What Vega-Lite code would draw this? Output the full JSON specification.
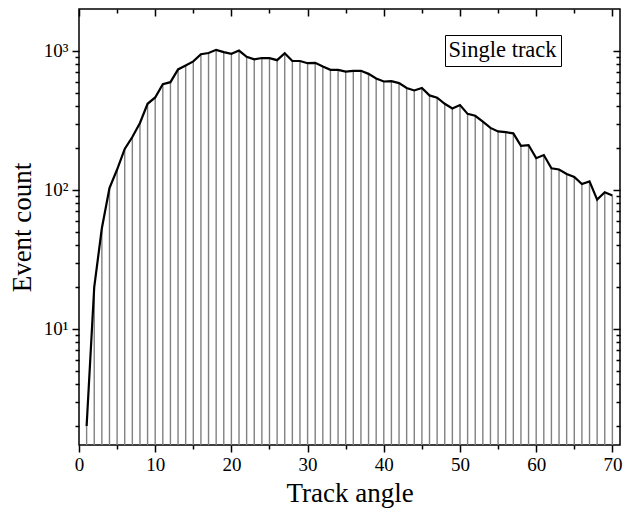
{
  "$schema": "https://vega.github.io/schema/vega-lite/v6.json",
  "width": 541,
  "height": 436,
  "autosize": "none",
  "padding": {"left": 79, "top": 9, "right": 16, "bottom": 70},
  "background": "white",
  "config": {"view": {"stroke": "black", "strokeWidth": 1.5}, "font": "Liberation Serif"},
  "data": {"values": [
    {"angle": 1, "count": 2}, {"angle": 2, "count": 20}, {"angle": 3, "count": 53}, {"angle": 4, "count": 103},
    {"angle": 5, "count": 140}, {"angle": 6, "count": 197}, {"angle": 7, "count": 240}, {"angle": 8, "count": 303},
    {"angle": 9, "count": 416}, {"angle": 10, "count": 462}, {"angle": 11, "count": 575}, {"angle": 12, "count": 595},
    {"angle": 13, "count": 735}, {"angle": 14, "count": 785}, {"angle": 15, "count": 840}, {"angle": 16, "count": 945},
    {"angle": 17, "count": 965}, {"angle": 18, "count": 1017}, {"angle": 19, "count": 980}, {"angle": 20, "count": 952},
    {"angle": 21, "count": 1005}, {"angle": 22, "count": 905}, {"angle": 23, "count": 870}, {"angle": 24, "count": 888},
    {"angle": 25, "count": 886}, {"angle": 26, "count": 857}, {"angle": 27, "count": 962}, {"angle": 28, "count": 845},
    {"angle": 29, "count": 845}, {"angle": 30, "count": 815}, {"angle": 31, "count": 820}, {"angle": 32, "count": 771},
    {"angle": 33, "count": 730}, {"angle": 34, "count": 730}, {"angle": 35, "count": 710}, {"angle": 36, "count": 718},
    {"angle": 37, "count": 718}, {"angle": 38, "count": 683}, {"angle": 39, "count": 632}, {"angle": 40, "count": 602},
    {"angle": 41, "count": 606}, {"angle": 42, "count": 586}, {"angle": 43, "count": 540}, {"angle": 44, "count": 519},
    {"angle": 45, "count": 540}, {"angle": 46, "count": 478}, {"angle": 47, "count": 460}, {"angle": 48, "count": 416},
    {"angle": 49, "count": 385}, {"angle": 50, "count": 407}, {"angle": 51, "count": 352}, {"angle": 52, "count": 341},
    {"angle": 53, "count": 310}, {"angle": 54, "count": 279}, {"angle": 55, "count": 263}, {"angle": 56, "count": 260},
    {"angle": 57, "count": 255}, {"angle": 58, "count": 207}, {"angle": 59, "count": 210}, {"angle": 60, "count": 169},
    {"angle": 61, "count": 178}, {"angle": 62, "count": 143}, {"angle": 63, "count": 140}, {"angle": 64, "count": 130},
    {"angle": 65, "count": 124}, {"angle": 66, "count": 110}, {"angle": 67, "count": 115}, {"angle": 68, "count": 85},
    {"angle": 69, "count": 96}, {"angle": 70, "count": 91}
  ]},
  "layer": [
    {
      "mark": {"type": "rule", "stroke": "#808080", "strokeWidth": 1.4},
      "encoding": {
        "x": {
          "field": "angle", "type": "quantitative",
          "scale": {"domain": [0, 71], "nice": false, "zero": false},
          "axis": {
            "orient": "bottom",
            "values": [0, 5, 10, 15, 20, 25, 30, 35, 40, 45, 50, 55, 60, 65, 70],
            "labelExpr": "datum.value % 10 === 0 ? datum.label : ''",
            "tickSize": {"condition": {"test": "datum.value % 10 === 0", "value": 7}, "value": 4},
            "tickColor": "black", "tickWidth": 1.5,
            "grid": false, "domain": false, "labelFlush": false, "labelOverlap": false,
            "labelFontSize": 19, "labelColor": "black", "labelFont": "Liberation Serif", "labelPadding": 3,
            "title": "Track angle", "titleFontSize": 27, "titleFontWeight": "normal", "titleColor": "black",
            "titleFont": "Liberation Serif", "titlePadding": 6
          }
        },
        "y": {
          "field": "count", "type": "quantitative",
          "scale": {"type": "log", "domain": [1.46, 2000], "nice": false},
          "axis": {
            "orient": "left",
            "values": [2, 3, 4, 5, 6, 7, 8, 9, 10, 20, 30, 40, 50, 60, 70, 80, 90, 100, 200, 300, 400, 500, 600, 700, 800, 900, 1000],
            "labelExpr": "datum.value == 10 ? '10¹' : datum.value == 100 ? '10²' : datum.value == 1000 ? '10³' : ''",
            "tickSize": {"condition": {"test": "datum.value == 10 || datum.value == 100 || datum.value == 1000", "value": 7}, "value": 4},
            "tickColor": "black", "tickWidth": 1.5,
            "grid": false, "domain": false, "labelOverlap": false, "labelFlush": false,
            "labelFontSize": 19, "labelColor": "black", "labelFont": "Liberation Serif", "labelPadding": 4,
            "title": "Event count", "titleFontSize": 27, "titleFontWeight": "normal", "titleColor": "black",
            "titleFont": "Liberation Serif", "titlePadding": 7
          }
        },
        "y2": {"datum": 1.46}
      }
    },
    {
      "mark": {"type": "line", "strokeWidth": 2.2, "clip": true},
      "encoding": {
        "x": {
          "field": "angle", "type": "quantitative",
          "axis": {
            "orient": "top",
            "values": [0, 5, 10, 15, 20, 25, 30, 35, 40, 45, 50, 55, 60, 65, 70],
            "labels": false,
            "tickSize": {"condition": {"test": "datum.value % 10 === 0", "value": -7}, "value": -4},
            "tickColor": "black", "tickWidth": 1.5,
            "grid": false, "domain": false, "title": null
          }
        },
        "y": {
          "field": "count", "type": "quantitative",
          "axis": {
            "orient": "right",
            "values": [2, 3, 4, 5, 6, 7, 8, 9, 10, 20, 30, 40, 50, 60, 70, 80, 90, 100, 200, 300, 400, 500, 600, 700, 800, 900, 1000],
            "labels": false,
            "tickSize": {"condition": {"test": "datum.value == 10 || datum.value == 100 || datum.value == 1000", "value": -7}, "value": -4},
            "tickColor": "black", "tickWidth": 1.5,
            "grid": false, "domain": false, "title": null
          }
        },
        "stroke": {
          "datum": "Single track",
          "scale": {"range": ["black"]},
          "legend": {
            "orient": "none", "legendX": 366, "legendY": 26,
            "title": null, "strokeColor": "black", "padding": 4,
            "labelFontSize": 22.5, "labelFont": "Liberation Serif", "labelColor": "black",
            "symbolType": "circle", "symbolSize": 0, "symbolOpacity": 0, "symbolStrokeWidth": 0, "labelOffset": -23
          }
        }
      }
    }
  ],
  "resolve": {"axis": {"x": "independent", "y": "independent"}}
}
